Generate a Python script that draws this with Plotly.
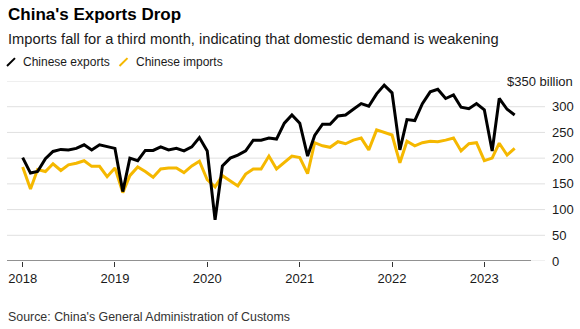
import pandas as pd
import plotly.graph_objects as go

# Monthly trade values, billions of US dollars, Jan 2018 - May 2023
exports = [
    201, 171, 174, 199, 213, 217, 216, 219, 226, 216, 226, 222,  # 2018
    219, 135, 200, 195, 215, 215, 222, 216, 219, 214, 222, 240,  # 2019
    214, 80, 185, 200, 206, 214, 235, 235, 239, 237, 268, 284,   # 2020
    268, 204, 244, 266, 266, 282, 284, 295, 306, 301, 325, 342,  # 2021
    327, 216, 275, 273, 306, 329, 334, 316, 323, 299, 296, 306,  # 2022
    294, 214, 316, 295, 284,                                     # 2023
]
imports = [
    183, 140, 178, 174, 189, 176, 187, 190, 195, 184, 184, 164,  # 2018
    181, 133, 166, 183, 174, 163, 179, 181, 181, 172, 185, 194,  # 2019
    158, 144, 166, 156, 146, 169, 179, 179, 204, 179, 192, 204,  # 2020
    201, 170, 230, 224, 221, 232, 228, 235, 239, 216, 255, 250,  # 2021
    245, 191, 233, 224, 230, 233, 232, 235, 239, 214, 228, 230,  # 2022
    195, 200, 229, 206, 219,                                     # 2023
]
months = pd.date_range("2018-01-01", periods=len(exports), freq="MS")

year_ticks = ["2018-01-01", "2019-01-01", "2020-01-01",
              "2021-01-01", "2022-01-01", "2023-01-01"]
year_labels = ["2018", "2019", "2020", "2021", "2022", "2023"]
y_ticks = [0, 50, 100, 150, 200, 250, 300]
y_labels = ["0", "50", "100", "150", "200", "250", "300"]
top_label = "$350 billion"

BLACK = "#000000"
YELLOW = "#f5b800"
GRID = "#e0e0e0"
FONT = "Liberation Sans, Arial, sans-serif"

W, H = 580, 329
L, R, T, B = 7, 35, 80.5, 67.5
PW, PH = W - L - R, H - T - B


def px(x):
    return (x - L) / PW


def py(y):
    return (H - B - y) / PH


fig = go.Figure()
fig.add_trace(go.Scatter(x=months, y=imports, mode="lines", name="Chinese imports",
                         line=dict(color=YELLOW, width=3)))
fig.add_trace(go.Scatter(x=months, y=exports, mode="lines", name="Chinese exports",
                         line=dict(color=BLACK, width=3)))

shapes = []
# horizontal gridlines (the top one stops short of its wider label)
for v in y_ticks + [350]:
    shapes.append(dict(type="line", xref="paper", yref="y", x0=0,
                       x1=px(500) if v == 350 else 1, y0=v, y1=v,
                       line=dict(color=GRID, width=1), layer="below"))
# baseline
shapes.append(dict(type="line", xref="paper", yref="y", x0=0, x1=px(531),
                   y0=0, y1=0, line=dict(color="#333333", width=1.2)))
# legend swatches
shapes.append(dict(type="line", xref="paper", yref="paper",
                   x0=px(7), y0=py(65.5), x1=px(15), y1=py(57.5),
                   line=dict(color=BLACK, width=2)))
shapes.append(dict(type="line", xref="paper", yref="paper",
                   x0=px(119.5), y0=py(65.5), x1=px(127.5), y1=py(57.5),
                   line=dict(color=YELLOW, width=2)))

annotations = [
    dict(text="<b>China's Exports Drop</b>", x=px(6), y=py(14),
         font=dict(size=17, color="#000000")),
    dict(text="Imports fall for a third month, indicating that domestic demand is weakening",
         x=px(6), y=py(38.5), font=dict(size=14.7, color="#1a1a1a")),
    dict(text="Chinese exports", x=px(21), y=py(61), font=dict(size=12, color="#1a1a1a")),
    dict(text="Chinese imports", x=px(133.5), y=py(61), font=dict(size=12, color="#1a1a1a")),
    dict(text="Source: China's General Administration of Customs", x=px(6), y=py(318),
         font=dict(size=12.4, color="#333333")),
]
for a in annotations:
    a.update(xref="paper", yref="paper", xanchor="left", yanchor="middle",
             showarrow=False)
annotations.append(dict(text=top_label, xref="paper", yref="y", x=px(575), y=350,
                        xanchor="right", yanchor="middle", showarrow=False,
                        font=dict(size=13, color="#1a1a1a")))

fig.update_layout(
    width=W, height=H,
    margin=dict(l=L, r=R, t=T, b=B, pad=0),
    paper_bgcolor="white", plot_bgcolor="white",
    showlegend=False,
    font=dict(family=FONT, size=13, color="#1a1a1a"),
    shapes=shapes, annotations=annotations,
    xaxis=dict(type="date", range=["2017-10-31", "2023-08-29"],
               tickvals=year_ticks, ticktext=year_labels,
               ticks="outside", ticklen=5, tickwidth=1, tickcolor="#333333",
               showgrid=False, showline=False, zeroline=False,
               tickfont=dict(size=13, color="#1a1a1a"), fixedrange=True),
    yaxis=dict(range=[0, 350], side="right", tickvals=y_ticks, ticktext=y_labels,
               showgrid=False, zeroline=False, showline=False, ticks="",
               ticklabelstandoff=6,
               tickfont=dict(size=13, color="#1a1a1a"), fixedrange=True),
)

fig.write_html("out.html")
